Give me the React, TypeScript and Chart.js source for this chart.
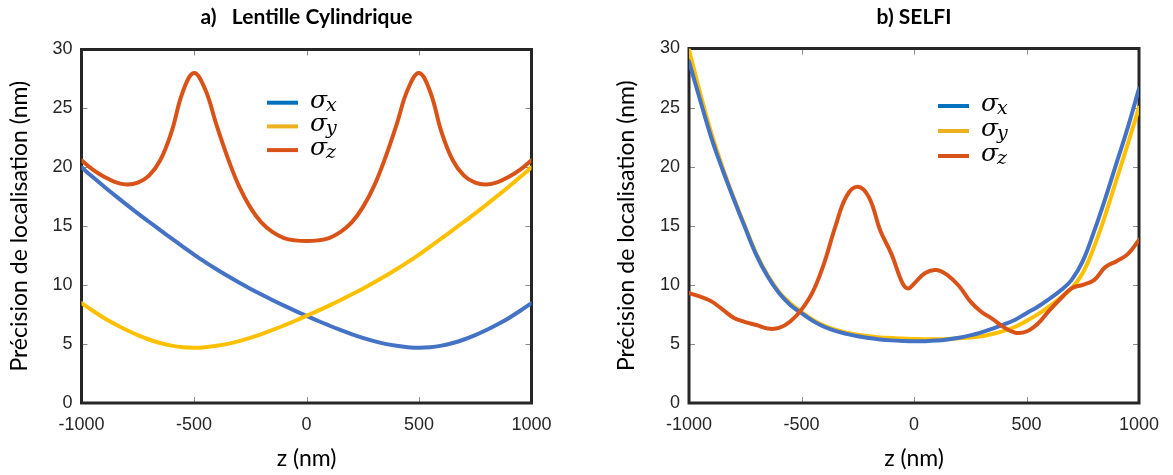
import React, { useEffect, useRef } from "react";
import { Chart, registerables } from "chart.js";

Chart.register(...registerables);

// ---------- data ----------
const zA = [-1000, -950, -900, -850, -800, -750, -700, -650, -600, -550, -500, -450, -400, -350, -300, -250, -200, -150, -100, -50, 0, 50, 100, 150, 200, 250, 300, 350, 400, 450, 500, 550, 600, 650, 700, 750, 800, 850, 900, 950, 1000];
const sigmaXA = [20.0, 19.18, 18.38, 17.6, 16.84, 16.1, 15.38, 14.67, 13.97, 13.28, 12.6, 11.96, 11.35, 10.77, 10.22, 9.7, 9.2, 8.72, 8.26, 7.82, 7.4, 6.98, 6.58, 6.2, 5.85, 5.53, 5.25, 5.02, 4.85, 4.74, 4.69, 4.73, 4.87, 5.09, 5.39, 5.76, 6.19, 6.68, 7.22, 7.83, 8.48];
const sigmaYA = [8.48, 7.83, 7.22, 6.68, 6.19, 5.76, 5.39, 5.09, 4.87, 4.73, 4.69, 4.74, 4.85, 5.02, 5.25, 5.53, 5.85, 6.2, 6.58, 6.98, 7.4, 7.82, 8.26, 8.72, 9.2, 9.7, 10.22, 10.77, 11.35, 11.96, 12.6, 13.28, 13.97, 14.67, 15.38, 16.1, 16.84, 17.6, 18.38, 19.18, 20.0];
const sigmaZA = [20.6, 19.8, 19.2, 18.75, 18.55, 18.7, 19.3, 20.6, 23.0, 26.4, 28.0, 26.6, 23.6, 20.8, 18.4, 16.6, 15.3, 14.5, 14.0, 13.8, 13.75, 13.8, 14.0, 14.5, 15.3, 16.6, 18.4, 20.8, 23.6, 26.6, 28.0, 26.4, 23.0, 20.6, 19.3, 18.7, 18.55, 18.75, 19.2, 19.8, 20.6];

const zB = [-1000, -950, -900, -850, -800, -750, -700, -650, -600, -550, -500, -450, -400, -350, -300, -250, -200, -150, -100, -50, 0, 50, 100, 150, 200, 250, 300, 350, 400, 450, 500, 550, 600, 650, 700, 750, 800, 850, 900, 950, 1000];
const sigmaXB = [28.9, 25.6, 22.4, 19.7, 17.2, 14.8, 12.5, 10.7, 9.3, 8.3, 7.6, 6.95, 6.45, 6.1, 5.85, 5.65, 5.5, 5.38, 5.3, 5.25, 5.22, 5.23, 5.28, 5.38, 5.52, 5.72, 5.98, 6.3, 6.65, 7.05, 7.6, 8.15, 8.8, 9.5, 10.4, 12.0, 14.5, 17.3, 20.3, 23.3, 26.6];
const sigmaYB = [29.9, 26.2, 22.8, 19.9, 17.3, 14.9, 12.6, 10.8, 9.4, 8.45, 7.7, 7.05, 6.55, 6.2, 5.95, 5.78, 5.65, 5.55, 5.5, 5.45, 5.42, 5.4, 5.4, 5.42, 5.48, 5.55, 5.65, 5.85, 6.1, 6.45, 6.95, 7.5, 8.15, 8.9, 9.7, 11.0, 13.2, 15.9, 18.9, 21.9, 25.0];
const zBz = [-1000, -950, -900, -850, -800, -750, -700, -650, -600, -550, -500, -450, -400, -350, -300, -250, -200, -150, -100, -50, -25, 0, 50, 100, 150, 200, 250, 300, 350, 400, 450, 500, 550, 600, 650, 700, 750, 800, 850, 900, 950, 1000];
const sigmaZB = [9.3, 9.0, 8.6, 7.9, 7.2, 6.85, 6.6, 6.3, 6.35, 6.9, 7.9, 9.4, 11.8, 14.9, 17.5, 18.3, 17.4, 14.6, 12.6, 10.1, 9.7, 10.1, 11.0, 11.25, 10.8, 9.9, 8.6, 7.7, 7.1, 6.4, 5.95, 6.05, 6.7, 7.8, 8.8, 9.7, 10.0, 10.4, 11.5, 12.0, 12.6, 13.8];

const xTicks = [-1000, -500, 0, 500, 1000];
const yTicks = [0, 5, 10, 15, 20, 25, 30];
const titleA = "a)   Lentille Cylindrique";
const titleB = "b) SELFI";
const xLabel = "z (nm)";
const yLabel = "Précision de localisation (nm)";
const legendSubs = ["x", "y", "z"];

const CURVE_X = "#4472C4";
const CURVE_Y = "#FFC000";
const CURVE_Z = "#D95319";
const LEG_COLORS = ["#0072BD", "#EDB120", "#D95319"];

// ---------- plugins ----------
const framePlugin = {
  id: "frame",
  beforeDatasetsDraw(chart: any) {
    const { ctx, chartArea: a, scales } = chart;
    ctx.save();
    ctx.strokeStyle = "#8a8a8a";
    ctx.lineWidth = 1;
    ctx.beginPath();
    xTicks.slice(1, -1).forEach((v) => {
      const px = Math.round(scales.x.getPixelForValue(v)) + 0.5;
      ctx.moveTo(px, a.top);
      ctx.lineTo(px, a.top + 6);
      ctx.moveTo(px, a.bottom);
      ctx.lineTo(px, a.bottom - 6);
    });
    yTicks.slice(1, -1).forEach((v) => {
      const py = Math.round(scales.y.getPixelForValue(v)) + 0.5;
      ctx.moveTo(a.left, py);
      ctx.lineTo(a.left + 6, py);
      ctx.moveTo(a.right, py);
      ctx.lineTo(a.right - 6, py);
    });
    ctx.stroke();
    ctx.strokeStyle = "#262626";
    ctx.lineWidth = 3;
    ctx.strokeRect(a.left, a.top, a.right - a.left, a.bottom - a.top);
    ctx.restore();
  },
};

const panelTitlePlugin = {
  id: "panelTitle",
  afterDraw(chart: any, _args: any, opts: any) {
    const { ctx, chartArea: a } = chart;
    ctx.save();
    ctx.font = "bold 21px Lato";
    ctx.fillStyle = "#000";
    ctx.textAlign = "center";
    ctx.textBaseline = "middle";
    ctx.fillText(opts.text, (a.left + a.right) / 2, opts.y);
    ctx.restore();
  },
};

const panelLegendPlugin = {
  id: "panelLegend",
  afterDatasetsDraw(chart: any, _args: any, opts: any) {
    const { ctx, chartArea: a } = chart;
    ctx.save();
    legendSubs.forEach((sub, i) => {
      const y = a.top + opts.dy + i * opts.gap;
      const x0 = a.left + opts.dx;
      ctx.strokeStyle = LEG_COLORS[i];
      ctx.lineWidth = 4;
      ctx.beginPath();
      ctx.moveTo(x0, y);
      ctx.lineTo(x0 + 31, y);
      ctx.stroke();
      ctx.fillStyle = "#000";
      ctx.textAlign = "left";
      ctx.textBaseline = "alphabetic";
      ctx.font = 'italic 25px "DejaVu Serif"';
      const tx = x0 + 31 + 12;
      ctx.fillText("σ", tx, y + 5);
      const w = ctx.measureText("σ").width;
      ctx.font = 'italic 19px "DejaVu Serif"';
      ctx.fillText(sub, tx + w - 1, y + 8);
    });
    ctx.restore();
  },
};

function pts(xs: number[], ys: number[]) {
  return xs.map((x, i) => ({ x, y: ys[i] }));
}

type PanelProps = {
  left: number;
  width: number;
  title: string;
  datasets: any[];
  yAxisWidth: number;
  padRight: number;
  padTop: number;
  yTitlePad: number;
  legendDx: number;
  legendDy: number;
  legendGap: number;
};

function Panel(p: PanelProps) {
  const ref = useRef<HTMLCanvasElement | null>(null);
  useEffect(() => {
    if (!ref.current) return;
    const tickFont = { family: "'Liberation Sans', Arial", size: 18 };
    const titleFont = { family: "Lato", size: 23 };
    const chart = new Chart(ref.current, {
      type: "line",
      data: { datasets: p.datasets },
      plugins: [framePlugin, panelTitlePlugin, panelLegendPlugin],
      options: {
        animation: false,
        responsive: false,
        maintainAspectRatio: false,
        layout: { padding: { left: 0, right: p.padRight, top: p.padTop, bottom: 0 } },
        elements: {
          point: { radius: 0 },
          line: { borderWidth: 4, tension: 0.4, borderCapStyle: "round", borderJoinStyle: "round" },
        },
        plugins: {
          legend: { display: false },
          tooltip: { enabled: false },
          title: { display: false },
          panelTitle: { text: p.title, y: 17 },
          panelLegend: { dx: p.legendDx, dy: p.legendDy, gap: p.legendGap },
        } as any,
        scales: {
          x: {
            type: "linear",
            min: -1000,
            max: 1000,
            afterBuildTicks: (s: any) => {
              s.ticks = xTicks.map((v) => ({ value: v }));
            },
            afterFit: (s: any) => {
              s.height = 72;
            },
            ticks: {
              callback: (v: any) => String(v),
              font: tickFont,
              color: "#262626",
              padding: 11,
              maxRotation: 0,
              autoSkip: false,
            },
            grid: { display: false, drawTicks: false },
            border: { display: false },
            title: {
              display: true,
              text: xLabel,
              font: titleFont,
              color: "#000",
              padding: { top: 0, bottom: 3 },
            },
          },
          y: {
            type: "linear",
            min: 0,
            max: 30,
            afterBuildTicks: (s: any) => {
              s.ticks = yTicks.map((v) => ({ value: v }));
            },
            afterFit: (s: any) => {
              s.width = p.yAxisWidth;
            },
            ticks: {
              callback: (v: any) => String(v),
              font: tickFont,
              color: "#262626",
              padding: 9,
              autoSkip: false,
            },
            grid: { display: false, drawTicks: false },
            border: { display: false },
            title: {
              display: true,
              text: yLabel,
              font: titleFont,
              color: "#000",
              padding: { top: p.yTitlePad, bottom: 0 },
            },
          },
        },
      } as any,
    });
    return () => chart.destroy();
  }, []);
  return (
    <canvas
      ref={ref}
      width={p.width}
      height={475}
      style={{ position: "absolute", left: p.left, top: 0, width: p.width, height: 475 }}
    />
  );
}

function ds(label: string, xs: number[], ys: number[], color: string) {
  return {
    label,
    data: pts(xs, ys),
    borderColor: color,
    backgroundColor: color,
    fill: false,
  };
}

export default function App() {
  const datasetsA = [
    ds("σz", zA, sigmaZA, CURVE_Z),
    ds("σy", zA, sigmaYA, CURVE_Y),
    ds("σx", zA, sigmaXA, CURVE_X),
  ];
  const datasetsB = [
    ds("σz", zBz, sigmaZB, CURVE_Z),
    ds("σx", zB, sigmaXB, CURVE_X),
    ds("σy", zB, sigmaYB, CURVE_Y),
  ];
  return (
    <div style={{ position: "absolute", left: 0, top: 0, width: 1173, height: 475, background: "#fff", overflow: "hidden" }}>
      <Panel
        left={0}
        width={590}
        title={titleA}
        datasets={datasetsA}
        yAxisWidth={81.5}
        padRight={58.5}
        padTop={49.5}
        yTitlePad={6}
        legendDx={185.5}
        legendDy={53.2}
        legendGap={23.7}
      />
      <Panel
        left={590}
        width={583}
        title={titleB}
        datasets={datasetsB}
        yAxisWidth={99}
        padRight={34}
        padTop={48.5}
        yTitlePad={23}
        legendDx={249}
        legendDy={57.5}
        legendGap={25}
      />
    </div>
  );
}
